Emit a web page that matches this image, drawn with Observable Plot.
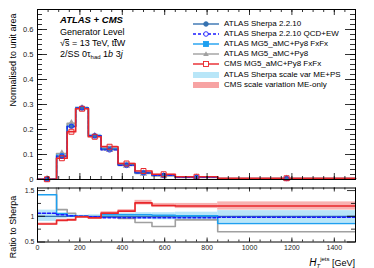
<!DOCTYPE html>
<html><head><meta charset="utf-8">
<script src="https://cdn.jsdelivr.net/npm/d3@7"></script>
<script src="https://cdn.jsdelivr.net/npm/@observablehq/plot@0.6"></script>
<style>
body{margin:0;background:#fff;}
#wrap{position:relative;width:374px;height:268px;font-family:"Liberation Sans",Arial,Helvetica,sans-serif;color:#000;overflow:hidden}
#wrap svg.plot{position:absolute;left:0;}
.t{position:absolute;white-space:nowrap;line-height:1}
.leg{position:absolute;left:192px;font-size:8px;line-height:1}
.leg div{position:absolute;white-space:nowrap;height:10px;}
.leg svg{position:absolute;left:0;top:0}
.leg span{position:absolute;left:32px;top:1px}
.ov{position:relative;display:inline-block}
.ov::before{content:"";position:absolute;left:0;right:0;top:0.5px;border-top:0.8px solid #000}
</style></head>
<body><div id="wrap"></div>
<script>
// ---- data ----
const edges = [0, 90, 140, 180, 240, 300, 380, 460, 540, 650, 850, 1500];
// normalised distributions (main panel)
const sherpa  = [0.001, 0.092, 0.212, 0.286, 0.176, 0.121, 0.058, 0.027, 0.017, 0.009, 0.004];
const qcdew   = [0.001, 0.094, 0.213, 0.286, 0.175, 0.118, 0.056, 0.026, 0.016, 0.0087, 0.0039];
const mgfxfx  = [0.0015, 0.097, 0.214, 0.286, 0.173, 0.124, 0.060, 0.028, 0.017, 0.009, 0.0035];
const mg5     = [0.002, 0.104, 0.225, 0.285, 0.174, 0.119, 0.056, 0.024, 0.014, 0.008, 0.003];
const cms     = [0.001, 0.085, 0.191, 0.283, 0.171, 0.131, 0.064, 0.034, 0.021, 0.011, 0.005];
// ratios to Sherpa (lower panel)
const rSherpa = [1, 1, 1, 1, 1, 1, 1, 1, 1, 1, 1];
const rQcdew  = [1.06, 1.03, 1.01, 1.0, 0.99, 0.97, 0.97, 0.97, 0.97, 0.97, 0.98];
const rMgfxfx = [1.42, 1.05, 1.01, 1.0, 0.98, 1.03, 1.03, 1.03, 1.02, 1.01, 0.86];
const rMg5    = [1.70, 1.13, 1.06, 1.0, 0.99, 0.98, 0.96, 0.88, 0.80, 0.93, 0.70];
const rCms    = [0.85, 0.92, 0.93, 0.99, 0.97, 1.06, 1.10, 1.26, 1.21, 1.20, 1.20];
const sherpaBandLo = [0.90, 0.95, 0.97, 0.98, 0.97, 0.96, 0.95, 0.94, 0.93, 0.92, 0.87];
const sherpaBandHi = [1.12, 1.07, 1.04, 1.02, 1.03, 1.05, 1.06, 1.07, 1.07, 1.08, 1.11];
const cmsBandLo    = [0.83, 0.90, 0.91, 0.97, 0.95, 1.03, 1.07, 1.22, 1.17, 1.15, 1.12];
const cmsBandHi    = [0.87, 0.94, 0.95, 1.01, 0.99, 1.09, 1.13, 1.31, 1.25, 1.25, 1.28];
// ticks
const xMajor = [0, 200, 400, 600, 800, 1000, 1200, 1400];
const xMinor = [0,50,100,150,200,250,300,350,400,450,500,550,600,650,700,750,800,850,900,950,1000,1050,1100,1150,1200,1250,1300,1350,1400,1450,1500];
const yMajor = [0, 0.1, 0.2, 0.3, 0.4, 0.5, 0.6];
const yMinor = [0,0.02,0.04,0.06,0.08,0.1,0.12,0.14,0.16,0.18,0.2,0.22,0.24,0.26,0.28,0.3,0.32,0.34,0.36,0.38,0.4,0.42,0.44,0.46,0.48,0.5,0.52,0.54,0.56,0.58,0.6,0.62,0.64,0.66];
const rMajor = [0.5, 1, 1.5];
const rMinor = [0.75, 1.25];

const C = {sherpa:"#3572b0", qcdew:"#1a1aff", mgfxfx:"#1ea0f0", mg5:"#a0a0a0", cms:"#e8262a", sBand:"#b8e6f8", cBand:"#f7a3a3"};
const FONT = '"Liberation Sans",Arial,Helvetica,sans-serif';

const bins = vals => vals.map((v,i)=>({x1:edges[i], x2:edges[i+1], xc:(edges[i]+edges[i+1])/2, v}));
const step = vals => bins(vals).flatMap(b=>[{x:b.x1,y:b.v},{x:b.x2,y:b.v}]);
const band = (vals, lo, hi, ref) => vals.map((v,i)=>({x1:edges[i], x2:edges[i+1], y1:v*lo[i]/ref[i], y2:v*hi[i]/ref[i]}));
const rband = (lo, hi) => lo.map((l,i)=>({x1:edges[i], x2:edges[i+1], y1:l, y2:hi[i]}));

const W = 374, ML = 37, MR = 19;
const PW = W - ML - MR;

function frameTicks(yMaj, yMin, ph, yMajLen, yMinLen, xMajLen, xMinLen){
  return [
    Plot.tickY(yMin, {y:d=>d, insetRight:PW-yMinLen, stroke:"#000", strokeWidth:0.8}),
    Plot.tickY(yMaj, {y:d=>d, insetRight:PW-yMajLen, stroke:"#000", strokeWidth:0.8}),
    Plot.tickY(yMin, {y:d=>d, insetLeft:PW-yMinLen, stroke:"#000", strokeWidth:0.8}),
    Plot.tickY(yMaj, {y:d=>d, insetLeft:PW-yMajLen, stroke:"#000", strokeWidth:0.8}),
    Plot.tickX(xMinor, {x:d=>d, insetTop:ph-xMinLen, stroke:"#000", strokeWidth:0.8}),
    Plot.tickX(xMajor, {x:d=>d, insetTop:ph-xMajLen, stroke:"#000", strokeWidth:0.8}),
    Plot.tickX(xMinor, {x:d=>d, insetBottom:ph-xMinLen, stroke:"#000", strokeWidth:0.8}),
    Plot.tickX(xMajor, {x:d=>d, insetBottom:ph-xMajLen, stroke:"#000", strokeWidth:0.8}),
    Plot.frame({stroke:"#000", strokeWidth:1})
  ];
}

// ---- main panel ----
const MT = 9, MB = 5, H1 = 184;
const main = Plot.plot({
  width:W, height:H1, marginLeft:ML, marginRight:MR, marginTop:MT, marginBottom:MB,
  x:{domain:[0,1500], axis:null},
  y:{domain:[0,0.68], axis:null},
  style:{fontFamily:FONT, background:"transparent", overflow:"visible"},
  marks:[
    Plot.rect(band(sherpa, sherpaBandLo, sherpaBandHi, rSherpa), {x1:"x1",x2:"x2",y1:"y1",y2:"y2", fill:C.sBand}),
    Plot.rect(band(cms, cmsBandLo, cmsBandHi, rCms), {x1:"x1",x2:"x2",y1:"y1",y2:"y2", fill:C.cBand, fillOpacity:0.8}),
    Plot.line(step(mg5), {x:"x", y:"y", stroke:C.mg5, strokeWidth:1.6}),
    Plot.line(step(mgfxfx), {x:"x", y:"y", stroke:C.mgfxfx, strokeWidth:1.4}),
    Plot.line(step(sherpa), {x:"x", y:"y", stroke:C.sherpa, strokeWidth:1.4}),
    Plot.line(step(qcdew), {x:"x", y:"y", stroke:C.qcdew, strokeWidth:1.2, strokeDasharray:"3,2"}),
    Plot.line(step(cms), {x:"x", y:"y", stroke:C.cms, strokeWidth:1.7}),
    Plot.dot(bins(mg5), {x:"xc", y:"v", symbol:"triangle", r:2.8, fill:C.mg5}),
    Plot.dot(bins(mgfxfx), {x:"xc", y:"v", symbol:"square", r:2.4, fill:C.mgfxfx}),
    Plot.dot(bins(sherpa), {x:"xc", y:"v", symbol:"circle", r:2, fill:C.sherpa}),
    Plot.dot(bins(qcdew), {x:"xc", y:"v", symbol:"circle", r:2.2, stroke:C.qcdew, fill:"none", strokeWidth:0.8}),
    Plot.dot(bins(cms), {x:"xc", y:"v", symbol:"square", r:2.8, stroke:C.cms, fill:"none", strokeWidth:1}),
    ...frameTicks(yMajor, yMinor, H1-MT-MB, 10, 5, 6, 3),
    Plot.axisY(yMajor, {tickSize:0, tickPadding:4, fontSize:7.5, fill:"#222", label:null, tickFormat:d=>String(d)})
  ]
});
main.classList.add("plot");
main.style.top = "0px";

// ---- ratio panel ----
const H2 = 84, MT2 = 3.5, MB2 = 26.5;
const ratio = Plot.plot({
  width:W, height:H2, marginLeft:ML, marginRight:MR, marginTop:MT2, marginBottom:MB2,
  x:{domain:[0,1500], axis:null},
  y:{domain:[0.5,1.55], axis:null},
  style:{fontFamily:FONT, background:"transparent", overflow:"visible"},
  marks:[
    Plot.rect(rband(sherpaBandLo, sherpaBandHi), {x1:"x1",x2:"x2",y1:"y1",y2:"y2", fill:C.sBand, clip:true}),
    Plot.rect(rband(cmsBandLo, cmsBandHi), {x1:"x1",x2:"x2",y1:"y1",y2:"y2", fill:C.cBand, fillOpacity:0.85, clip:true}),
    Plot.line(step(rMg5), {x:"x", y:"y", stroke:C.mg5, strokeWidth:1.6, clip:true}),
    Plot.line(step(rSherpa), {x:"x", y:"y", stroke:C.sherpa, strokeWidth:1.2, clip:true}),
    Plot.line(step(rMgfxfx), {x:"x", y:"y", stroke:C.mgfxfx, strokeWidth:1.5, clip:true}),
    Plot.line(step(rQcdew), {x:"x", y:"y", stroke:C.qcdew, strokeWidth:1.5, strokeDasharray:"3,2", clip:true}),
    Plot.line(step(rCms), {x:"x", y:"y", stroke:C.cms, strokeWidth:1.7, clip:true}),
    ...frameTicks(rMajor, rMinor, H2-MT2-MB2, 8, 4, 4, 2),
    Plot.axisY(rMajor, {tickSize:0, tickPadding:3, fontSize:7, fill:"#222", label:null, tickFormat:d=>String(d)}),
    Plot.axisX(xMajor, {tickSize:0, tickPadding:3, fontSize:7, fill:"#222", label:null, tickFormat:d=>String(d)})
  ]
});
ratio.classList.add("plot");
ratio.style.top = H1 + "px";

const wrap = document.getElementById("wrap");
wrap.appendChild(main);
wrap.appendChild(ratio);

// ---- texts ----
function addText(html, css){
  const d = document.createElement("div");
  d.className = "t";
  d.innerHTML = html;
  Object.assign(d.style, css);
  wrap.appendChild(d);
}
addText('ATLAS + CMS', {left:"60px", top:"14.5px", fontSize:"9.5px", fontWeight:"bold", fontStyle:"italic"});
addText('Generator Level', {left:"60px", top:"27.5px", fontSize:"9px"});
addText('√<span class="ov">s</span> = 13 TeV, t<span class="ov">t</span>W', {left:"60px", top:"38.5px", fontSize:"9px"});
addText('2/SS 0τ<sub style="font-size:6px;vertical-align:-2px">had</sub> 1<i>b</i> 3<i>j</i>', {left:"60px", top:"49.5px", fontSize:"9px"});
addText('Normalised to unit area', {left:"13px", top:"60px", fontSize:"9px", transform:"translate(-50%,-50%) rotate(-90deg)"});
addText('Ratio to Sherpa', {left:"13px", top:"227px", fontSize:"9px", transform:"translate(-50%,-50%) rotate(-90deg)"});
addText('<i style="font-size:10px">H</i><i style="font-size:6px;vertical-align:-2px">T</i><span style="font-size:6px;vertical-align:5px">jets</span> [GeV]', {right:"19px", top:"256px", fontSize:"9px"});

// ---- legend ----
const legendItems = [
  {label:"ATLAS Sherpa 2.2.10", color:C.sherpa, dash:null, sym:"circle", fill:true},
  {label:"ATLAS Sherpa 2.2.10 QCD+EW", color:C.qcdew, dash:"3,2", sym:"circle", fill:false},
  {label:"ATLAS MG5_aMC+Py8 FxFx", color:C.mgfxfx, dash:null, sym:"square", fill:true},
  {label:"ATLAS MG5_aMC+Py8", color:C.mg5, dash:null, sym:"triangle", fill:true},
  {label:"CMS MG5_aMC+Py8 FxFx", color:C.cms, dash:null, sym:"square", fill:false},
  {label:"ATLAS Sherpa scale var ME+PS", color:C.sBand, band:true},
  {label:"CMS scale variation ME-only", color:C.cBand, band:true}
];
const legendY = [18.5, 28.5, 39, 49, 59, 69.5, 80];
const leg = document.createElement("div");
leg.className = "leg";
leg.style.top = "0px";
legendItems.forEach((it,i)=>{
  const row = document.createElement("div");
  row.style.top = legendY[i] + "px";
  let s = '<svg width="30" height="10">';
  if(it.band){
    s += `<rect x="1" y="2" width="26" height="6" fill="${it.color}"/>`;
  } else {
    s += `<line x1="1" x2="27" y1="5" y2="5" stroke="${it.color}" stroke-width="1.4" ${it.dash?`stroke-dasharray="${it.dash}"`:""}/>`;
    const f = it.fill ? it.color : "#fff";
    if(it.sym==="circle") s += `<circle cx="14" cy="5" r="2.3" fill="${f}" stroke="${it.color}" stroke-width="0.9"/>`;
    if(it.sym==="square") s += `<rect x="11.5" y="2.5" width="5" height="5" fill="${f}" stroke="${it.color}" stroke-width="0.9"/>`;
    if(it.sym==="triangle") s += `<path d="M14,2.3 L16.8,7 L11.2,7 Z" fill="${f}"/>`;
  }
  s += '</svg>';
  row.innerHTML = s + `<span>${it.label}</span>`;
  leg.appendChild(row);
});
wrap.appendChild(leg);
</script>
</body></html>
